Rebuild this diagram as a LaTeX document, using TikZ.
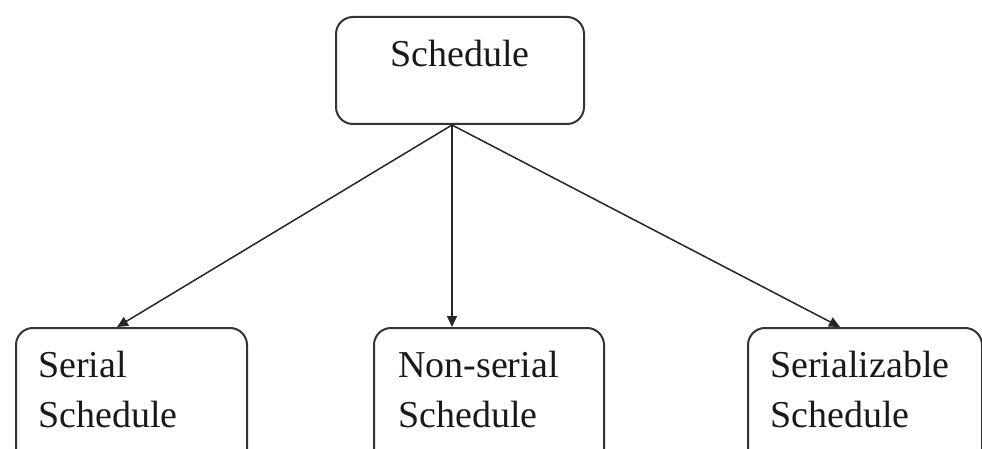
\documentclass[tikz,border=0pt]{standalone}
\usepackage{fontspec}
\setmainfont{Liberation Serif}
\usetikzlibrary{arrows.meta,calc}
\tikzset{
  boxnode/.style={draw=black!80, line width=2pt, rounded corners=17pt, inner sep=0pt, fill=white},
  labeltext/.style={inner sep=0pt, align=left, font=\fontsize{38}{50}\selectfont, text=black!90},
  conn/.style={line width=1.5pt, draw=black!85, -{Triangle[length=11pt,width=10pt]}}
}
\begin{document}
\begin{tikzpicture}[x=1pt,y=-1pt]
\clip (0,0) rectangle (982,449);
\fill[white] (0,0) rectangle (982,449);
% top box
\node[boxnode, anchor=north west, minimum width=248pt, minimum height=107pt] (top) at (335,16) {};
\node[labeltext, anchor=base west] (toplabel) at (390,67) {Schedule};
% bottom boxes
\node[boxnode, anchor=north west, minimum width=231pt, minimum height=150pt] (b1) at (15,327) {};
\node[boxnode, anchor=north west, minimum width=230pt, minimum height=150pt] (b2) at (373,327) {};
\node[boxnode, anchor=north west, minimum width=234pt, minimum height=150pt] (b3) at (747,327) {};
\node[labeltext, anchor=north west] (t1) at (38,351) {Serial\\Schedule};
\node[labeltext, anchor=north west] (t2) at (398,351) {Non-serial\\Schedule};
\node[labeltext, anchor=north west] (t3) at (770,351) {Serializable\\Schedule};
% connectors
\coordinate (src) at ($(top.south west)+(117,0)$);
\draw[conn] (src) -- ($(b1.north west)+(102,0)$);
\draw[conn] (src) -- ($(b2.north west)+(79,0)$);
\draw[conn] (src) -- ($(b3.north west)+(93,0)$);
\end{tikzpicture}
\end{document}
